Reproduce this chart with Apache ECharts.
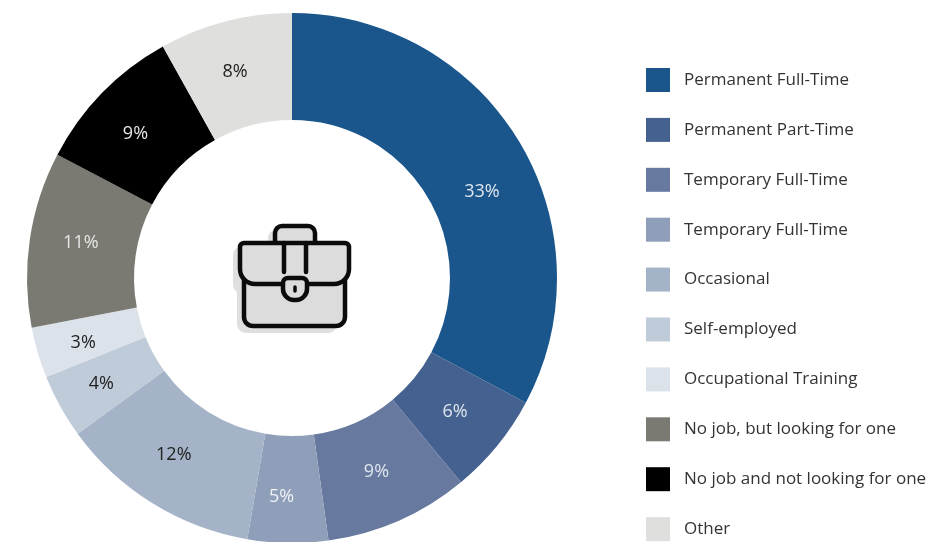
<!DOCTYPE html>
<html><head><meta charset="utf-8">
<style>html,body{margin:0;padding:0;background:#fff}#c{width:941px;height:542px}</style>
<script src="https://cdn.jsdelivr.net/npm/echarts@6/dist/echarts.min.js"></script>
</head><body><div id="c"></div>
<script>
const categories = ["Permanent Full-Time","Permanent Part-Time","Temporary Full-Time","Temporary Full-Time ","Occasional","Self-employed","Occupational Training","No job, but looking for one","No job and not looking for one","Other"];
const values = [32.8,6.2,8.8,4.9,12.3,3.9,3.1,10.7,9.2,8.1];
const colors = ["#1a568c","#44618f","#67799f","#8f9fb9","#a5b3c8","#c0cbd9","#dbe2ea","#7b7a72","#000000","#dfdfdd"];
const labelColors = ["#dfe6ee","#dfe6ee","#dfe6ee","#eef1f5","#222222","#222222","#222222","#e6e6e6","#e6e6e6","#222222"];
const labelOffsets = [[6,24],[-3,-2],[-2,-2],[-7,4],[-5,-5],[-3,2],[-3,4],[1,-4],[-3,6],[-3,1]];
const F = '"Open Sans", sans-serif';
const chart = echarts.init(document.getElementById('c'), null, {renderer:'canvas'});
const ink = '#0b0b0b';
const stroke = {stroke: ink, lineWidth: 4.5, lineCap:'round', lineJoin:'round'};
const shadow = '#dfdfdf', body = '#dcdcdc';
chart.setOption({
  animation:false,
  backgroundColor:'#fff',
  legend:{
    orient:'vertical', left:646, top:68, padding:0, itemWidth:24, itemHeight:24, itemGap:25.9, icon:'rect',
    selectedMode:false, data:categories,
    textStyle:{fontFamily:F,fontSize:17,color:'#333',padding:[2,0,0,9]}
  },
  series:[{
    type:'pie', center:[292,278], radius:[158,265], startAngle:90, clockwise:true, silent:true,
    avoidLabelOverlap:false,
    label:{position:'inside',fontFamily:F,fontSize:18},
    labelLine:{show:false},
    data:categories.map((n,i)=>({name:n,value:values[i],
      itemStyle:{color:colors[i]},
      label:{color:labelColors[i],offset:labelOffsets[i],formatter:Math.round(values[i])+'%'}}))
  }],
  graphic:[
    {type:'group',silent:true,children:[
      {type:'rect',shape:{x:233,y:247,width:106,height:46,r:8},style:{fill:shadow}},
      {type:'rect',shape:{x:237,y:275,width:100,height:58,r:9},style:{fill:shadow}},
      {type:'rect',shape:{x:268,y:230,width:40,height:22,r:8},style:{fill:shadow}},
      {type:'rect',shape:{x:275,y:226,width:40,height:26,r:[7,7,0,0]},style:{fill:body,...stroke}},
      {type:'rect',shape:{x:244,y:270,width:101,height:56,r:[0,0,9,9]},style:{fill:body,...stroke}},
      {type:'rect',shape:{x:240,y:243,width:109,height:41,r:[4,4,15,15]},style:{fill:body,...stroke}},
      {type:'line',shape:{x1:284,y1:243,x2:284,y2:272},style:{...stroke}},
      {type:'line',shape:{x1:306,y1:243,x2:306,y2:272},style:{...stroke}},
      {type:'rect',shape:{x:283,y:278,width:24,height:22,r:[5,5,11,11]},style:{fill:body,...stroke}},
      {type:'line',shape:{x1:295,y1:287,x2:295,y2:291},style:{...stroke,lineWidth:3.5}}
    ]}
  ]
});
</script></body></html>
